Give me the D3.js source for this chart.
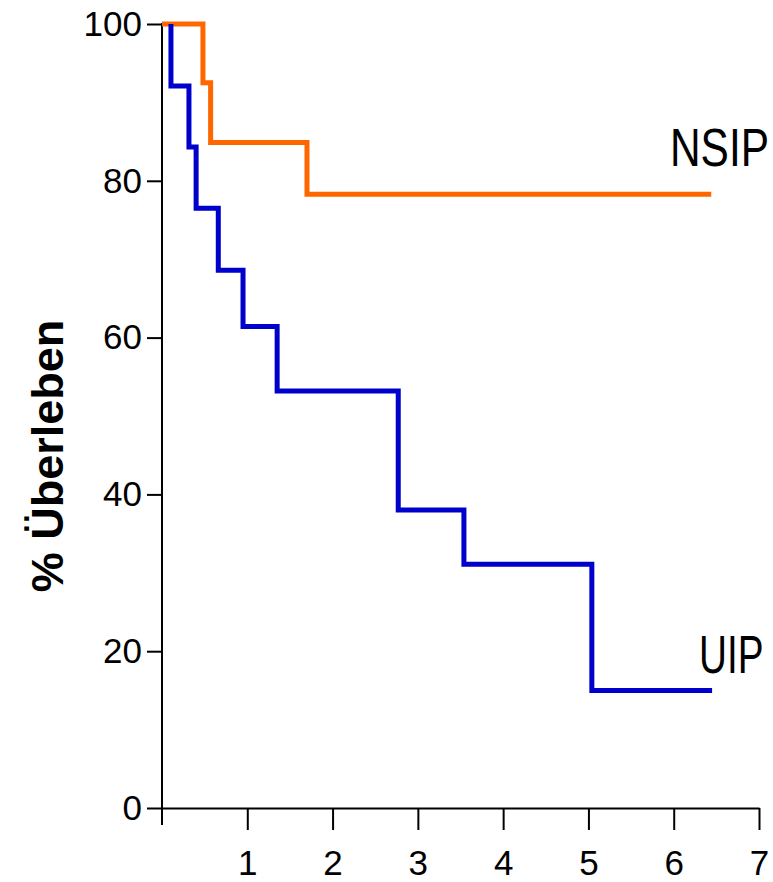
<!DOCTYPE html>
<html>
<head>
<meta charset="utf-8">
<script src="https://cdn.jsdelivr.net/npm/d3@7/dist/d3.min.js"></script>
<style>
  body { margin: 0; background: #fff; }
  text { font-family: "Liberation Sans", Arial, sans-serif; fill: #000; }
</style>
</head>
<body>
<div id="chart"></div>
<script>
// survival curves (years vs. % surviving)
const nsipTime = [0, 0.48, 0.57, 1.70, 6.44];
const nsipSurv = [100, 92.5, 84.9, 78.3, 78.3];
const uipTime = [0.105, 0.105, 0.316, 0.40, 0.66, 0.95, 1.35, 2.77, 3.54, 5.04, 6.45];
const uipSurv = [100, 92.1, 84.3, 76.5, 68.6, 61.4, 53.2, 38.0, 31.1, 15.0, 15.0];
const xTicks = [1, 2, 3, 4, 5, 6, 7];
const yTicks = [0, 20, 40, 60, 80, 100];

const width = 773, height = 882;

const svg = d3.select('#chart')
  .append('svg')
  .attr('width', width)
  .attr('height', height);

const x = d3.scaleLinear().domain([0, 7]).range([162, 759]);
const y = d3.scaleLinear().domain([0, 100]).range([808, 24]);

// x axis sits on y = 0, ticks pointing down
const xAxis = svg.append('g')
  .attr('transform', `translate(0,${y(0)})`)
  .call(d3.axisBottom(x).tickValues(xTicks).tickFormat(d3.format('d'))
    .tickSize(22).tickSizeOuter(0).tickPadding(20));
xAxis.select('.domain').attr('stroke', '#000').attr('stroke-width', 2);
xAxis.selectAll('.tick line').attr('stroke', '#000').attr('stroke-width', 2);
xAxis.selectAll('.tick text')
  .attr('font-size', 35)
  .attr('font-family', '"Liberation Sans", Arial, sans-serif')
  .attr('fill', '#000');

// y axis
const yAxis = svg.append('g')
  .attr('transform', `translate(${x(0)},0)`)
  .call(d3.axisLeft(y).tickValues(yTicks).tickFormat(d3.format('d'))
    .tickSize(15).tickSizeOuter(0).tickPadding(5));
yAxis.select('.domain').remove();
yAxis.selectAll('.tick line').attr('stroke', '#000').attr('stroke-width', 2);
yAxis.selectAll('.tick text')
  .attr('font-size', 35)
  .attr('font-family', '"Liberation Sans", Arial, sans-serif')
  .attr('fill', '#000');
// vertical axis line runs a bit below the x axis
yAxis.append('line')
  .attr('x1', 0).attr('x2', 0)
  .attr('y1', y(100) - 1).attr('y2', y(0) + 17)
  .attr('stroke', '#000').attr('stroke-width', 2);

// step lines
const line = d3.line()
  .x(d => x(d[0]))
  .y(d => y(d[1]))
  .curve(d3.curveStepAfter);

svg.append('path')
  .datum(d3.zip(nsipTime, nsipSurv))
  .attr('d', line)
  .attr('fill', 'none')
  .attr('stroke', '#ff6600')
  .attr('stroke-width', 5);

svg.append('path')
  .datum(d3.zip(uipTime, uipSurv))
  .attr('d', line)
  .attr('fill', 'none')
  .attr('stroke', '#0000cc')
  .attr('stroke-width', 5);

// curve labels (condensed lettering, so squeeze horizontally)
svg.append('text')
  .attr('transform', 'translate(670,166) scale(0.8,1)')
  .attr('font-size', 53)
  .text('NSIP');

svg.append('text')
  .attr('transform', 'translate(699,673) scale(0.73,1)')
  .attr('font-size', 53)
  .text('UIP');

// y axis title
svg.append('text')
  .attr('transform', 'translate(63,456) rotate(-90)')
  .attr('text-anchor', 'middle')
  .attr('font-size', 45)
  .attr('font-weight', 'bold')
  .text('% Überleben');
</script>
</body>
</html>
